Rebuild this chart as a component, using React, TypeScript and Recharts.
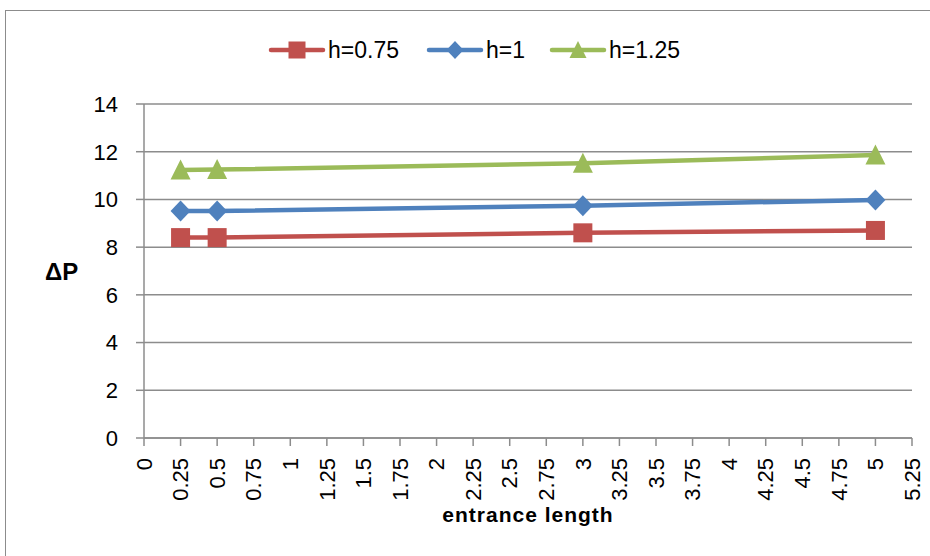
import React from 'react';
import { LineChart, Line, XAxis, YAxis, CartesianGrid, Legend } from 'recharts';

// ---- data ----
const xValues = [0.25, 0.5, 3, 5];
const h075 = [8.4, 8.4, 8.6, 8.7];
const h1 = [9.51, 9.51, 9.74, 9.98];
const h125 = [11.23, 11.25, 11.52, 11.86];
const seriesNames = ['h=0.75', 'h=1', 'h=1.25'];
const xTicks = [0, 0.25, 0.5, 0.75, 1, 1.25, 1.5, 1.75, 2, 2.25, 2.5, 2.75, 3, 3.25, 3.5, 3.75, 4, 4.25, 4.5, 4.75, 5, 5.25];
const yTicks = [0, 2, 4, 6, 8, 10, 12, 14];
const xLabel = 'entrance length';
const yLabel = 'ΔP';

const data = xValues.map((x, i) => ({ x, a: h075[i], b: h1[i], c: h125[i] }));

const RED = '#C0504D';
const BLUE = '#4F81BD';
const GREEN = '#9BBB59';
const GRAY = '#8C8C8C';
const FONT = '"Liberation Sans", Arial, sans-serif';

type Kind = 'square' | 'diamond' | 'triangle';

function markerShape(kind: Kind, cx: number, cy: number, color: string, s: number, key?: any) {
  const h = s / 2;
  if (kind === 'square') {
    return <rect key={key} x={cx - h} y={cy - h} width={s} height={s} fill={color} />;
  }
  if (kind === 'diamond') {
    return (
      <polygon
        key={key}
        points={`${cx},${cy - h - 0.5} ${cx + h},${cy} ${cx},${cy + h + 0.5} ${cx - h},${cy}`}
        fill={color}
      />
    );
  }
  return (
    <polygon
      key={key}
      points={`${cx},${cy - h - 0.5} ${cx + h},${cy + h - 0.5} ${cx - h},${cy + h - 0.5}`}
      fill={color}
    />
  );
}

const makeDot = (kind: Kind, color: string, size: number) => (props: any) => {
  const { cx, cy, index } = props;
  if (cx == null || cy == null) return <g key={`d-${kind}-${index}`} />;
  return markerShape(kind, cx, cy, color, size, `d-${kind}-${index}`);
};

const XTick = (props: any) => {
  const { x, y, payload } = props;
  return (
    <text
      x={x}
      y={y}
      dy="0.35em"
      textAnchor="end"
      transform={`rotate(-90, ${x}, ${y})`}
      fontFamily={FONT}
      fontSize={22}
      fill="#000"
    >
      {payload.value}
    </text>
  );
};

const legendItems: { name: string; color: string; kind: Kind; width: number }[] = [
  { name: seriesNames[0], color: RED, kind: 'square', width: 158 },
  { name: seriesNames[1], color: BLUE, kind: 'diamond', width: 123 },
  { name: seriesNames[2], color: GREEN, kind: 'triangle', width: 170 },
];

const LegendContent = () => (
  <div style={{ display: 'flex', alignItems: 'center', height: 30, fontFamily: FONT, fontSize: 23, color: '#000' }}>
    {legendItems.map((it) => (
      <div key={it.name} style={{ display: 'flex', alignItems: 'center', width: it.width, height: 30 }}>
        <svg width={58} height={24} style={{ display: 'block' }}>
          <line x1={3} y1={12} x2={55} y2={12} stroke={it.color} strokeWidth={4.5} strokeLinecap="round" />
          {markerShape(it.kind, 29, 12, it.color, 17)}
        </svg>
        <span style={{ marginLeft: 2, lineHeight: '30px' }}>{it.name}</span>
      </div>
    ))}
  </div>
);

export default function App() {
  return (
    <div style={{ position: 'absolute', left: 0, top: 0, width: 930, height: 556, overflow: 'hidden', background: '#fff' }}>
      <div
        style={{
          position: 'absolute',
          left: 5,
          top: 10,
          width: 1000,
          height: 1000,
          border: `1.5px solid ${GRAY}`,
          boxSizing: 'border-box',
        }}
      />
      <div style={{ position: 'absolute', left: 0, top: 0 }}>
        <LineChart width={930} height={556} data={data} margin={{ top: 74, right: 18, bottom: 34, left: 45 }}>
          <CartesianGrid vertical={false} stroke={GRAY} strokeWidth={1.5} />
          <XAxis
            dataKey="x"
            type="number"
            domain={[0, 5.25]}
            ticks={xTicks}
            interval={0}
            height={84}
            tickSize={8}
            tickMargin={12}
            axisLine={{ stroke: GRAY, strokeWidth: 1.5 }}
            tickLine={{ stroke: GRAY, strokeWidth: 1.5 }}
            tick={<XTick />}
            label={{
              value: xLabel,
              position: 'insideBottom',
              offset: 0,
              style: { fontFamily: FONT, fontSize: 21, fontWeight: 'bold', fill: '#000', letterSpacing: 1 },
            }}
          />
          <YAxis
            type="number"
            domain={[0, 14]}
            ticks={yTicks}
            interval={0}
            width={99}
            tickSize={8}
            tickMargin={18}
            axisLine={{ stroke: GRAY, strokeWidth: 1.5 }}
            tickLine={{ stroke: GRAY, strokeWidth: 1.5 }}
            tick={{ fontFamily: FONT, fontSize: 22, fill: '#000' }}
            label={{
              value: yLabel,
              position: 'insideLeft',
              offset: 0,
              style: { fontFamily: FONT, fontSize: 24, fontWeight: 'bold', fill: '#000', textAnchor: 'start' },
            }}
          />
          <Legend
            verticalAlign="top"
            align="left"
            content={<LegendContent />}
            wrapperStyle={{ top: 35, left: 268, width: 480, height: 30 }}
          />
          <Line
            dataKey="a"
            name={seriesNames[0]}
            stroke={RED}
            strokeWidth={4.5}
            dot={makeDot('square', RED, 19)}
            isAnimationActive={false}
          />
          <Line
            dataKey="b"
            name={seriesNames[1]}
            stroke={BLUE}
            strokeWidth={4.5}
            dot={makeDot('diamond', BLUE, 20)}
            isAnimationActive={false}
          />
          <Line
            dataKey="c"
            name={seriesNames[2]}
            stroke={GREEN}
            strokeWidth={4.5}
            dot={makeDot('triangle', GREEN, 20)}
            isAnimationActive={false}
          />
        </LineChart>
      </div>
    </div>
  );
}
